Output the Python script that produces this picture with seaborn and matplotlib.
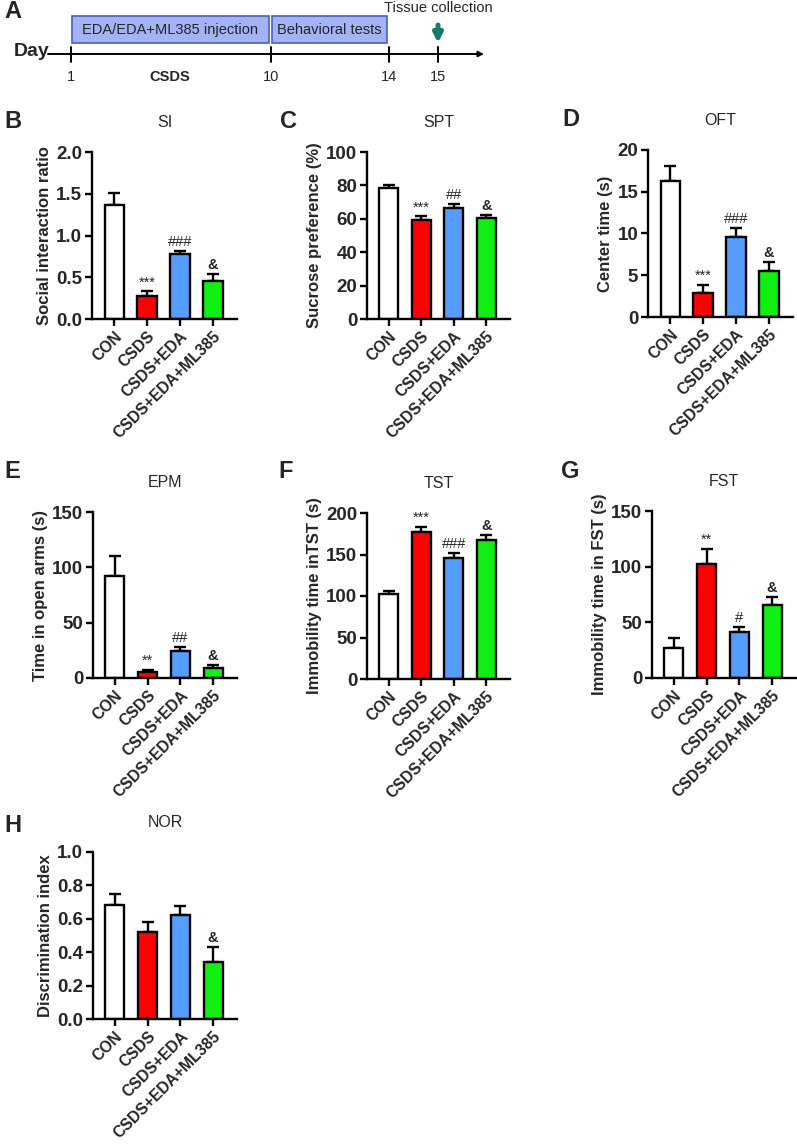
import matplotlib
matplotlib.use("Agg")
import matplotlib.pyplot as plt
import seaborn as sns
from matplotlib.patches import Rectangle

sns.set_theme(style="ticks")
plt.rcParams['font.family'] = ['Liberation Sans', 'DejaVu Sans']

# ---- data ----
groups = ["CON", "CSDS", "CSDS+EDA", "CSDS+EDA+ML385"]
bar_colors = ["#ffffff", "#ff0000", "#559dfc", "#11ee11"]

si_mean = [1.37, 0.27, 0.78, 0.46]
si_sem = [0.14, 0.06, 0.04, 0.08]
si_marks = ["", "***", "###", "&"]

spt_mean = [78.5, 59.0, 66.5, 60.5]
spt_sem = [1.5, 2.5, 2.5, 2.0]
spt_marks = ["", "***", "##", "&"]

oft_mean = [16.3, 2.9, 9.6, 5.5]
oft_sem = [1.8, 0.9, 1.1, 1.1]
oft_marks = ["", "***", "###", "&"]

epm_mean = [92.0, 5.0, 24.0, 9.0]
epm_sem = [18.0, 2.5, 4.0, 3.0]
epm_marks = ["", "**", "##", "&"]

tst_mean = [103.0, 177.0, 146.0, 167.0]
tst_sem = [3.0, 6.5, 6.0, 7.0]
tst_marks = ["", "***", "###", "&"]

fst_mean = [27.0, 102.0, 41.0, 66.0]
fst_sem = [9.0, 14.0, 5.0, 7.0]
fst_marks = ["", "**", "#", "&"]

nor_mean = [0.68, 0.52, 0.62, 0.34]
nor_sem = [0.07, 0.06, 0.055, 0.09]
nor_marks = ["", "", "", "&"]

timeline_days = ["1", "10", "14", "15"]
phase_labels = ["EDA/EDA+ML385 injection", "Behavioral tests"]

W, H = 797, 1144
fig = plt.figure(figsize=(W / 100, H / 100), dpi=100)


def px_rect(left, top, right, bottom):
    return [left / W, 1 - bottom / H, (right - left) / W, (bottom - top) / H]


def bar_panel(rect, mean, sem, marks, ymax, step, ylabel, title, letter, letter_xy, fmt):
    ax = fig.add_axes(px_rect(*rect))
    sns.barplot(x=groups, y=mean, hue=groups, palette=bar_colors, legend=False,
                saturation=1, edgecolor="black", linewidth=1.7, width=0.58,
                ax=ax, zorder=2)
    ax.errorbar(range(len(groups)), mean, yerr=[[0] * len(sem), sem], fmt="none",
                ecolor="black", elinewidth=1.7, capsize=4.5, capthick=1.7, zorder=1)
    for i, m in enumerate(marks):
        if m:
            ax.text(i, mean[i] + sem[i] + ymax * 0.012, m, ha="center", va="bottom",
                    fontsize=10.5, fontweight="bold" if m == "&" else "normal")
    ax.set_ylim(0, ymax)
    ax.set_xlim(-0.67, 3.73)
    ticks = [step * k for k in range(int(round(ymax / step)) + 1)]
    ax.set_yticks(ticks)
    ax.set_yticklabels([fmt.format(t) for t in ticks], fontweight="bold", fontsize=13.5)
    ax.set_xticks(range(len(groups)))
    ax.set_xticklabels(groups, rotation=45, ha="right", va="top",
                       rotation_mode="anchor", fontweight="bold", fontsize=11.3)
    ax.set_ylabel(ylabel, fontweight="bold", fontsize=12, labelpad=3)
    ax.set_xlabel("")
    ax.set_title(title, fontsize=11.5, pad=18)
    sns.despine(ax=ax)
    for s in ["left", "bottom"]:
        ax.spines[s].set_linewidth(1.7)
        ax.spines[s].set_color("black")
    ax.tick_params(axis="both", length=5, width=1.7, color="black", pad=2)
    fig.text(letter_xy[0] / W, 1 - letter_xy[1] / H, letter, fontsize=17,
             fontweight="bold", va="center", ha="left")
    return ax


bar_panel((92, 152, 237, 319), si_mean, si_sem, si_marks, 2.0, 0.5,
          "Social interaction ratio", "SI", "B", (4, 122), "{:.1f}")
bar_panel((367, 152, 510, 319), spt_mean, spt_sem, spt_marks, 100, 20,
          "Sucrose preference (%)", "SPT", "C", (280, 122), "{:.0f}")
bar_panel((648, 150, 793, 317), oft_mean, oft_sem, oft_marks, 20, 5,
          "Center time (s)", "OFT", "D", (562, 120), "{:.0f}")
bar_panel((93, 512, 237, 678), epm_mean, epm_sem, epm_marks, 150, 50,
          "Time in open arms (s)", "EPM", "E", (4, 472), "{:.0f}")
bar_panel((367, 513, 510, 679), tst_mean, tst_sem, tst_marks, 200, 50,
          "Immobility time inTST (s)", "TST", "F", (278, 472), "{:.0f}")
bar_panel((652, 511, 796, 678), fst_mean, fst_sem, fst_marks, 150, 50,
          "Immobility time in FST (s)", "FST", "G", (561, 471), "{:.0f}")
bar_panel((93, 852, 237, 1019), nor_mean, nor_sem, nor_marks, 1.0, 0.2,
          "Discrimination index", "NOR", "H", (4, 825), "{:.1f}")

# ---- panel A: timeline schematic (pixel layout) ----
axA = fig.add_axes(px_rect(0, 0, W, 100))
axA.set_xlim(0, W)
axA.set_ylim(100, 0)
axA.axis("off")

tick_x = [71, 271, 389, 438]
axA.annotate("", xy=(484, 54), xytext=(48, 54),
             arrowprops=dict(arrowstyle="-|>", lw=1.4, color="black",
                             mutation_scale=8, shrinkA=0, shrinkB=0))
for x, lab in zip(tick_x, timeline_days):
    axA.plot([x, x], [47, 62], color="black", lw=1.4)
    axA.text(x, 77, lab, ha="center", va="center", fontsize=10.5)
axA.text(170, 77, "CSDS", ha="center", va="center", fontsize=10.5,
         fontweight="bold")
axA.text(14, 52, "Day", ha="left", va="center", fontsize=14, fontweight="bold")

for (x0, x1), lab in zip([(72, 269), (272, 387)], phase_labels):
    axA.add_patch(Rectangle((x0, 16), x1 - x0, 27, facecolor="#a3b3f5",
                            edgecolor="#4a5fc0", lw=1.2))
    axA.text((x0 + x1) / 2, 30, lab, ha="center", va="center", fontsize=10.5)

axA.annotate("", xy=(438, 43), xytext=(438, 25),
             arrowprops=dict(arrowstyle="-|>", lw=3.5, color="#137a6e",
                             mutation_scale=13, shrinkA=0, shrinkB=0))
axA.text(438, 8, "Tissue collection", ha="center", va="center", fontsize=10.5)
fig.text(4 / W, 1 - 12 / H, "A", fontsize=17, fontweight="bold", va="center")

fig.savefig("out.png", dpi=100)
